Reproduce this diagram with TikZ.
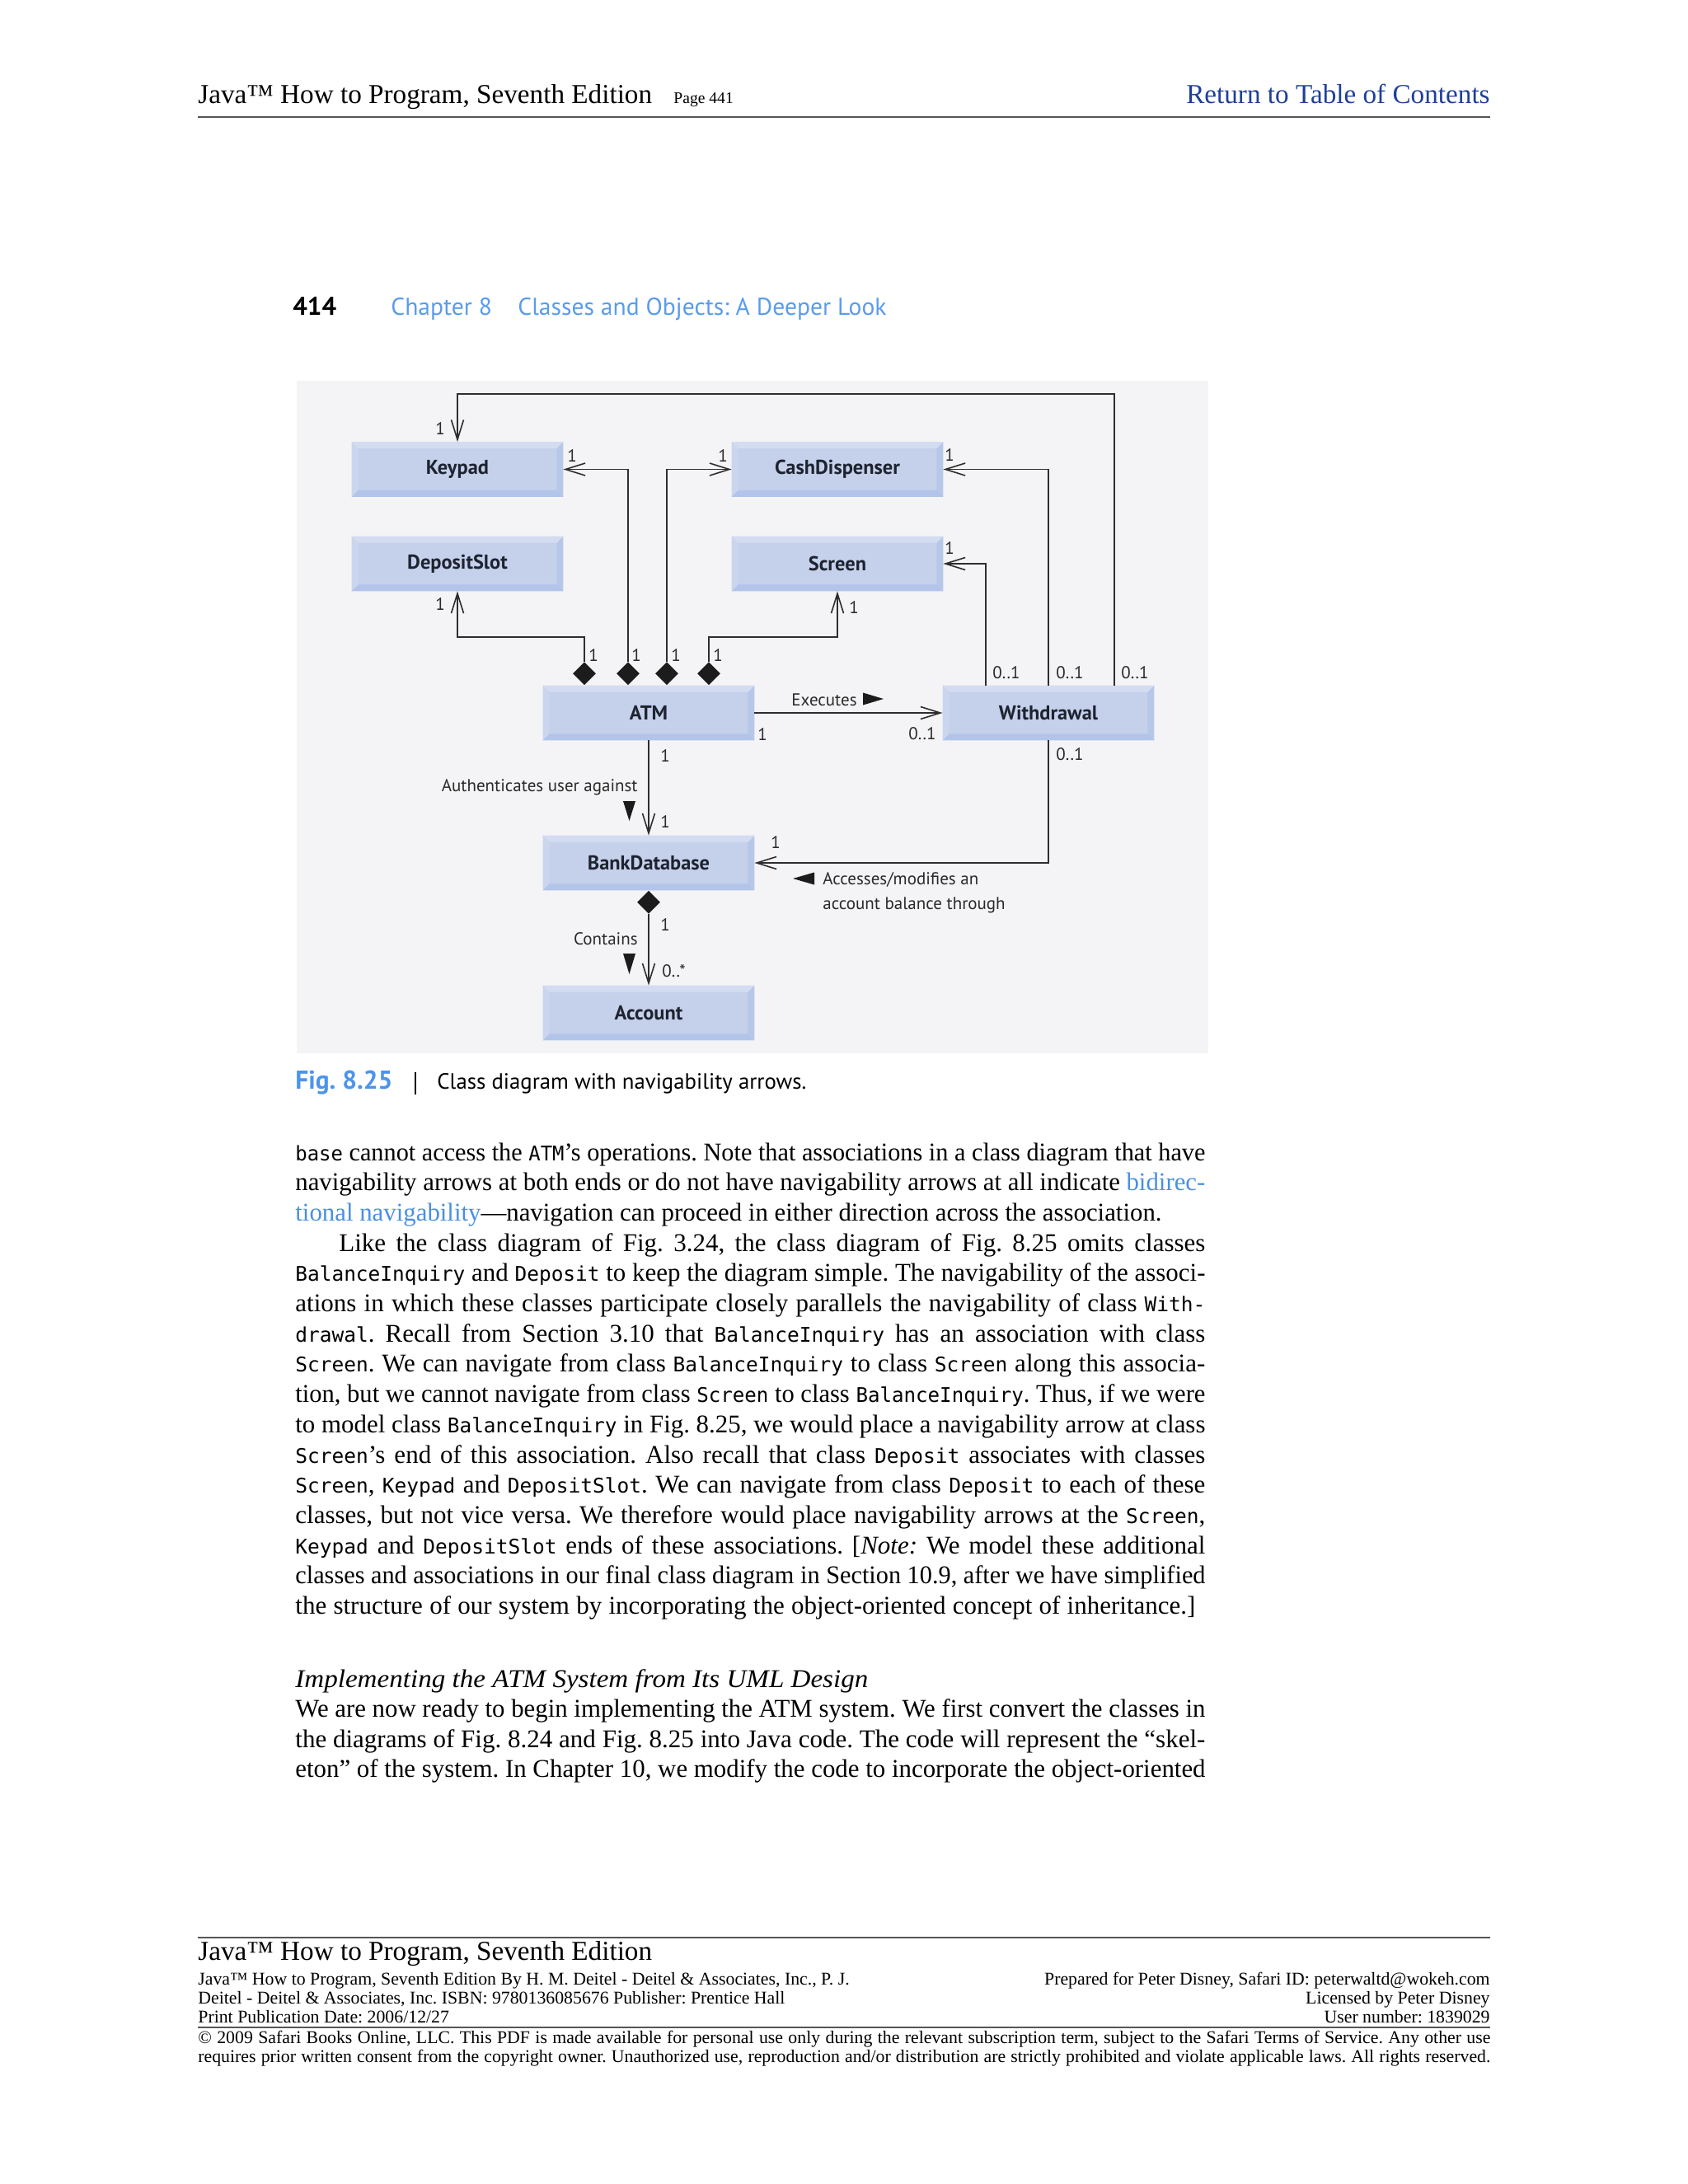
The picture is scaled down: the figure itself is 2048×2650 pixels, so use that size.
\documentclass[tikz,border=0pt]{standalone}
\usepackage{fontspec}
\usepackage{graphicx}
\usetikzlibrary{arrows.meta,calc,shapes.geometric}
\setmainfont{Liberation Serif}
\newfontfamily\codefont{DejaVu Sans Mono}[Scale=0.79]
\newfontfamily\dsans{PT Sans}
\definecolor{linkdark}{HTML}{1F3F9A}
\definecolor{chapblue}{HTML}{5A9CEB}
\definecolor{figblue}{HTML}{4D94EA}
\definecolor{linkblue}{HTML}{4A90E2}
\definecolor{diabg}{HTML}{F4F4F6}
\definecolor{linec}{HTML}{2E2E2E}
\definecolor{diac}{HTML}{1C1C1C}
\definecolor{boxface}{HTML}{C5D1EB}
\definecolor{bvtop}{HTML}{D3DCF1}
\definecolor{bvleft}{HTML}{CBD6EE}
\definecolor{bvright}{HTML}{B7C7E8}
\definecolor{bvbot}{HTML}{B2C4E9}
\definecolor{clstext}{HTML}{1E2330}
\definecolor{labtext}{HTML}{2A2A2A}
\definecolor{rulec}{HTML}{555555}
\newlength\jw
\newcommand\jline[2]{\settowidth\jw{#2}\ifdim\jw>#1\relax\resizebox{#1}{\height}{#2}\else\hbox to #1{#2}\fi}
\newcommand\code[1]{{\codefont #1}}
\newcommand\lk[1]{\textcolor{linkblue}{#1}}
\frenchspacing
\begin{document}
\begin{tikzpicture}[x=0.5pt,y=-0.5pt,
  cls/.style={fill=boxface, minimum width=128pt, minimum height=33pt, inner sep=0pt, text=clstext, font=\dsans\bfseries\fontsize{12.2}{14}\selectfont},
  dia/.style={diamond, fill=diac, inner sep=0pt, minimum width=14pt, minimum height=14pt},
  nav/.style={draw=linec, line width=0.8pt, -{Straight Barb[length=12pt,width=7.5pt]}},
  lbl/.style={inner sep=0pt, text=labtext, font=\dsans\fontsize{10.5}{12}\selectfont},
  tri/.style={fill=diac},
  body/.style={anchor=base west, inner sep=0pt, font=\frenchspacing\fontsize{15.5}{18}\selectfont},
  hdr/.style={anchor=base west, inner sep=0pt, font=\fontsize{16.6}{19}\selectfont},
  small/.style={inner sep=0pt, font=\frenchspacing\fontsize{10.9}{12}\selectfont},
  rule/.style={draw=rulec, line width=1pt}
]
\useasboundingbox (0,0) rectangle (2048,2650);
\fill[white] (0,0) rectangle (2048,2650);

% ---------- header ----------
\node[hdr] (h1) at (240,125) {Java™ How to Program, Seventh Edition};
\node[anchor=base west, inner sep=0pt, font=\fontsize{9.8}{11}\selectfont] (h2) at (817,125) {Page 441};
\node[hdr, anchor=base east, text=linkdark] (h3) at (1808,125) {Return to Table of Contents};
\draw[rule] (240,142) -- (1808,142);

% ---------- chapter line ----------
\node[anchor=base west, inner sep=0pt, font=\dsans\bfseries\fontsize{15.5}{17}\selectfont] (pn) at (355,382) {414};
\node[anchor=base west, inner sep=0pt, text=chapblue, font=\dsans\fontsize{14.8}{17}\selectfont] (ch) at (474,382) {Chapter 8};
\node[anchor=base west, inner sep=0pt, text=chapblue, font=\dsans\fontsize{14.8}{17}\selectfont] (ct) at (628,382) {Classes and Objects: A Deeper Look};

% ---------- diagram ----------
\fill[diabg] (360,462) rectangle (1466,1278);

\node[cls] (kp) at (555,569.5) {Keypad};
\node[cls] (cd) at (1016,569.5) {CashDispenser};
\node[cls] (ds) at (555,684) {DepositSlot};
\node[cls] (sc) at (1016,684) {Screen};
\node[cls] (atm) at (787,865) {ATM};
\node[cls] (wd) at (1272,865) {Withdrawal};
\node[cls] (bd) at (787,1047) {BankDatabase};
\node[cls] (acc) at (787,1229) {Account};

\foreach \n in {kp,cd,ds,sc,atm,wd,bd,acc}{
  \fill[bvleft] (\n.north west) -- (\n.south west) -- ([shift={(4pt,4pt)}]\n.south west) -- ([shift={(4pt,-4pt)}]\n.north west) -- cycle;
  \fill[bvright] (\n.north east) -- (\n.south east) -- ([shift={(-4pt,4pt)}]\n.south east) -- ([shift={(-4pt,-4pt)}]\n.north east) -- cycle;
  \fill[bvtop] (\n.north west) -- (\n.north east) -- ([shift={(-4pt,-4pt)}]\n.north east) -- ([shift={(4pt,-4pt)}]\n.north west) -- cycle;
  \fill[bvbot] (\n.south west) -- (\n.south east) -- ([shift={(-4pt,4pt)}]\n.south east) -- ([shift={(4pt,4pt)}]\n.south west) -- cycle;
}

\node[dia, anchor=south] (d1) at ([xshift=-39pt]atm.north) {};
\node[dia, anchor=south] (d2) at ([xshift=-12.5pt]atm.north) {};
\node[dia, anchor=south] (d3) at ([xshift=11pt]atm.north) {};
\node[dia, anchor=south] (d4) at ([xshift=36.5pt]atm.north) {};
\node[dia, anchor=north] (d5) at (bd.south) {};

\coordinate (topk) at (555,478);
\coordinate (dsj) at (555,773);
\coordinate (scj) at (1016,773);
\draw[nav] ([xshift=40pt]wd.north) |- (topk) -- (kp.north);
\draw[nav] (wd.north) |- (cd.east);
\draw[nav] ([xshift=-38pt]wd.north) |- (sc.east);
\draw[nav] (d2.north) |- (kp.east);
\draw[nav] (d3.north) |- (cd.west);
\draw[nav] (d1.north) |- (dsj) -- (ds.south);
\draw[nav] (d4.north) |- (scj) -- (sc.south);
\draw[nav] (atm.east) -- (wd.west);
\draw[nav] (atm.south) -- (bd.north);
\draw[nav] (wd.south) |- (bd.east);
\draw[nav] (d5.south) -- (acc.north);

\node[lbl] (m1) at (534,520) {1};
\node[lbl] (m2) at (694,553) {1};
\node[lbl] (m3) at (877,553) {1};
\node[lbl] (m4) at (1152,552) {1};
\node[lbl] (m5) at (1152,665) {1};
\node[lbl] (m6) at (534,733) {1};
\node[lbl] (m7) at (1036,737) {1};
\node[lbl] (m8) at (720,795) {1};
\node[lbl] (m9) at (772,795) {1};
\node[lbl] (m10) at (820,795) {1};
\node[lbl] (m11) at (871,795) {1};
\node[lbl] (m12) at (1221,816) {0..1};
\node[lbl] (m13) at (1298,816) {0..1};
\node[lbl] (m14) at (1377,816) {0..1};
\node[lbl, anchor=base west] (ex) at (960,856) {Executes};
\fill[tri] (1047,840.5) -- (1072,848) -- (1047,855.5) -- cycle;
\node[lbl] (m15) at (925,891) {1};
\node[lbl] (m16) at (1119,890) {0..1};
\node[lbl] (m17) at (1298,915) {0..1};
\node[lbl] (m18) at (807,917) {1};
\node[lbl] (m19) at (807,997) {1};
\node[lbl, anchor=base east] (au) at (774,960) {Authenticates user against};
\fill[tri] (756,972) -- (771,972) -- (763.5,996) -- cycle;
\node[lbl] (m20) at (941,1022) {1};
\fill[tri] (988,1058.5) -- (988,1073.5) -- (962,1066) -- cycle;
\node[lbl, anchor=base west] (ac1) at (998,1073) {Accesses/modifies an};
\node[lbl, anchor=base west] (ac2) at (998,1103) {account balance through};
\node[lbl] (m21) at (807,1122) {1};
\node[lbl, anchor=base east] (co) at (774,1146) {Contains};
\fill[tri] (756,1157) -- (771,1157) -- (763.5,1182) -- cycle;
\node[lbl, anchor=base west] (m22) at (803,1185) {0..*};

% ---------- caption ----------
\node[anchor=base west, inner sep=0pt, text=figblue, font=\dsans\bfseries\fontsize{15.7}{18}\selectfont] (fig) at (358,1321) {Fig. 8.25};
\draw[line width=1pt] (504,1301) -- (504,1328);
\node[anchor=base west, inner sep=0pt, font=\dsans\fontsize{13.4}{16}\selectfont] (cap) at (530,1321) {Class diagram with navigability arrows.};

% ---------- body ----------
\node[body] (b1) at (358,1408) {\jline{552pt}{\code{base} cannot access the \code{ATM}’s operations. Note that associations in a class diagram that have}};
\node[body] (b2) at (358,1444.7) {\jline{552pt}{navigability arrows at both ends or do not have navigability arrows at all indicate \lk{bidirec-}}};
\node[body] (b3) at (358,1481.4) {\jline{525.5pt}{\lk{tional navigability}—navigation can proceed in either direction across the association.}};
\node[body] (b4) at (411,1518.1) {\jline{525.5pt}{Like the class diagram of Fig. 3.24, the class diagram of Fig. 8.25 omits classes}};
\node[body] (b5) at (358,1554.8) {\jline{552pt}{\code{BalanceInquiry} and \code{Deposit} to keep the diagram simple. The navigability of the associ-}};
\node[body] (b6) at (358,1591.5) {\jline{552pt}{ations in which these classes participate closely parallels the navigability of class \code{With-}}};
\node[body] (b7) at (358,1628.2) {\jline{552pt}{\code{drawal}. Recall from Section 3.10 that \code{BalanceInquiry} has an association with class}};
\node[body] (b8) at (358,1664.9) {\jline{552pt}{\code{Screen}. We can navigate from class \code{BalanceInquiry} to class \code{Screen} along this associa-}};
\node[body] (b9) at (358,1701.6) {\jline{552pt}{tion, but we cannot navigate from class \code{Screen} to class \code{BalanceInquiry}. Thus, if we were}};
\node[body] (b10) at (358,1738.3) {\jline{552pt}{to model class \code{BalanceInquiry} in Fig. 8.25, we would place a navigability arrow at class}};
\node[body] (b11) at (358,1775) {\jline{552pt}{\code{Screen}’s end of this association. Also recall that class \code{Deposit} associates with classes}};
\node[body] (b12) at (358,1811.7) {\jline{552pt}{\code{Screen}, \code{Keypad} and \code{DepositSlot}. We can navigate from class \code{Deposit} to each of these}};
\node[body] (b13) at (358,1848.4) {\jline{552pt}{classes, but not vice versa. We therefore would place navigability arrows at the \code{Screen},}};
\node[body] (b14) at (358,1885.1) {\jline{552pt}{\code{Keypad} and \code{DepositSlot} ends of these associations. [\textit{Note:} We model these additional}};
\node[body] (b15) at (358,1921.8) {\jline{552pt}{classes and associations in our final class diagram in Section 10.9, after we have simplified}};
\node[body] (b16) at (358,1958.5) {\jline{546pt}{the structure of our system by incorporating the object-oriented concept of inheritance.]}};
\node[body] (hd) at (358,2047) {\resizebox{347.5pt}{\height}{\textit{Implementing the ATM System from Its UML Design}}};
\node[body] (b17) at (358,2083.5) {\jline{552pt}{We are now ready to begin implementing the ATM system. We first convert the classes in}};
\node[body] (b18) at (358,2120.2) {\jline{552pt}{the diagrams of Fig. 8.24 and Fig. 8.25 into Java code. The code will represent the “skel-}};
\node[body] (b19) at (358,2156.9) {\jline{552pt}{eton” of the system. In Chapter 10, we modify the code to incorporate the object-oriented}};

% ---------- footer ----------
\draw[rule] (240,2351) -- (1808,2351);
\node[hdr] (f1) at (240,2378) {Java™ How to Program, Seventh Edition};
\node[small, anchor=base west] (f2) at (240,2408) {Java™ How to Program, Seventh Edition By H. M. Deitel - Deitel \& Associates, Inc., P. J.};
\node[small, anchor=base west] (f3) at (240,2431) {Deitel - Deitel \& Associates, Inc. ISBN: 9780136085676 Publisher: Prentice Hall};
\node[small, anchor=base west] (f4) at (240,2454) {Print Publication Date: 2006/12/27};
\node[small, anchor=base east] (f5) at (1808,2408) {Prepared for Peter Disney, Safari ID: peterwaltd@wokeh.com};
\node[small, anchor=base east] (f6) at (1808,2431) {Licensed by Peter Disney};
\node[small, anchor=base east] (f7) at (1808,2454) {User number: 1839029};
\draw[rule] (240,2460) -- (1808,2460);
\node[small, anchor=base west] (f8) at (240,2479) {\jline{784pt}{© 2009 Safari Books Online, LLC. This PDF is made available for personal use only during the relevant subscription term, subject to the Safari Terms of Service. Any other use}};
\node[small, anchor=base west] (f9) at (240,2502) {\jline{784pt}{requires prior written consent from the copyright owner. Unauthorized use, reproduction and/or distribution are strictly prohibited and violate applicable laws. All rights reserved.}};
\end{tikzpicture}
\end{document}
